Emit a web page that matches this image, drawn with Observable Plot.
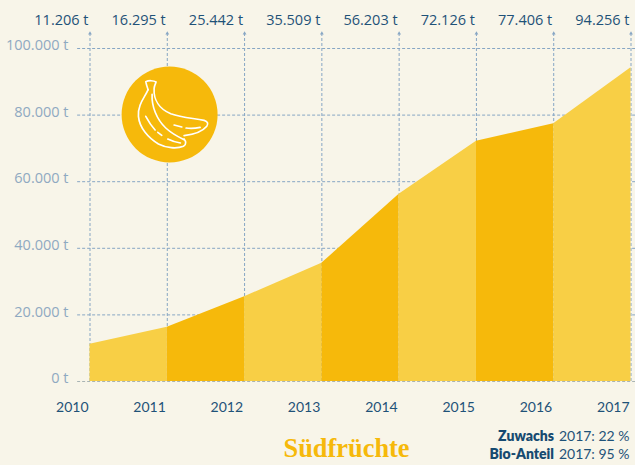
<!DOCTYPE html>
<html><head><meta charset="utf-8">
<script src="https://cdn.jsdelivr.net/npm/d3@7"></script>
<script src="https://cdn.jsdelivr.net/npm/@observablehq/plot@0.6"></script>
<style>html,body{margin:0;padding:0;background:#f8f5e9;overflow:hidden}svg{display:block}</style>
</head><body>
<script>
const years = [2010, 2011, 2012, 2013, 2014, 2015, 2016, 2017];
const tonnes = [11206, 16295, 25442, 35509, 56203, 72126, 77406, 94256];
const yTicks = [0, 20000, 40000, 60000, 80000, 100000];
const segmentColors = ["#f8cf45", "#f6b90b"];
const de = new Intl.NumberFormat("de-DE");
const fmt = v => de.format(v) + " t";

const rows = years.map((year, i) => ({year, value: tonnes[i]}));
const segments = rows.slice(0, -1).flatMap((d, i) => [
  {...d, seg: i}, {...rows[i + 1], seg: i}
]);
const blue = "#1f5278", pale = "#8fa9c1", grid = "#87a6c4";
const sans = "'Open Sans'", narrow = "Lato";

const bananaIcon = (index, {x, y}) => {
  const g = d3.create("svg:g").attr("transform", `translate(${x(2011.03)},${y(80180)}) scale(0.3333) translate(-507,-343)`)
    .attr("fill", "none").attr("stroke", "#fff").attr("stroke-width", 5).attr("stroke-linecap", "round").attr("stroke-linejoin", "round");
  [
    "M444 270C441 262 438 252 437 246C445 242 460 242 468 247C466 252 463 258 462 266C460 300 478 328 512 342C545 354 575 355 612 362C622 365 626 372 620 380C606 397 580 405 552 408",
    "M444 270C435 292 412 315 415 350C418 385 445 415 475 433C498 445 530 448 550 440C560 434 557 424 552 418",
    "M456 284C454 320 470 360 497 385C515 402 535 412 552 420",
    "M437 350C445 365 453 378 465 391", "M473 398L485 407", "M503 418C515 424 528 428 541 430",
    "M522 376L545 382", "M558 385C572 387 586 386 600 383"
  ].forEach(d => g.append("path").attr("d", d));
  return g.node();
};

const statLine = (label, rest, dy) => [
  Plot.text([rest], {frameAnchor: "bottom-right", textAnchor: "end", dx: -1.5, dy, fontSize: 14, fontFamily: narrow, fill: blue}),
  Plot.text([label], {frameAnchor: "bottom-right", textAnchor: "end", dx: -77, dy, fontSize: 14, fontWeight: 800, fontFamily: narrow, fill: "#164a70"})
];

const chart = Plot.plot({
  width: 635, height: 465,
  marginLeft: 89.5, marginRight: 4.5, marginTop: 48, marginBottom: 84,
  style: {background: "#f8f5e9", fontFamily: sans, overflow: "hidden"},
  x: {domain: [2010, 2017]},
  y: {domain: [0, 100000]},
  marks: [
    Plot.ruleY(yTicks.slice(1), {x1: 2009.84, x2: 2017.07, stroke: grid, strokeWidth: 1, strokeDasharray: "3,2"}),
    Plot.ruleX(years, {y1: 0, y2: 104500, stroke: grid, strokeWidth: 1, strokeDasharray: "3,2"}),
    Plot.dot(years, {x: d => d, y: 104500, symbol: "triangle", r: 1.4, fill: grid}),
    Plot.areaY(segments, {x: "year", y1: 0, y2: "value", z: "seg", fill: d => segmentColors[d.seg % 2], curve: "linear"}),
    Plot.ruleY([0], {x1: 2009.84, x2: 2017.07, stroke: "#a9b4b4", strokeWidth: 1.2, strokeDasharray: "3,2"}),
    Plot.dot([{year: 2011.03, value: 80180}], {x: "year", y: "value", r: 48, fill: "#f6b90b"}),
    bananaIcon,
    Plot.axisY({ticks: yTicks, tickFormat: fmt, tickSize: 0, tickPadding: 21.5, fontSize: 14.5, fill: pale, dy: -3, label: null}),
    Plot.axisX({ticks: years, tickFormat: "d", tickSize: 0, tickPadding: 21, fontSize: 14, fontFamily: narrow, fill: blue, textAnchor: "end", dx: -1.5, label: null}),
    Plot.text(rows, {x: "year", y: 104500, text: d => fmt(d.value), textAnchor: "end", dx: -1.5, dy: -13.5, fontSize: 14.5, fill: blue}),
    Plot.text(["Südfrüchte"], {frameAnchor: "bottom", dx: -14, dy: 75, fontSize: 26.4, fontWeight: 700, fontFamily: "'Liberation Serif'", fill: "#f6b90b"}),
    ...statLine("Zuwachs", "2017: 22 %", 59),
    ...statLine("Bio-Anteil", "2017: 95 %", 77)
  ]
});
document.body.append(chart);
</script>
</body></html>
